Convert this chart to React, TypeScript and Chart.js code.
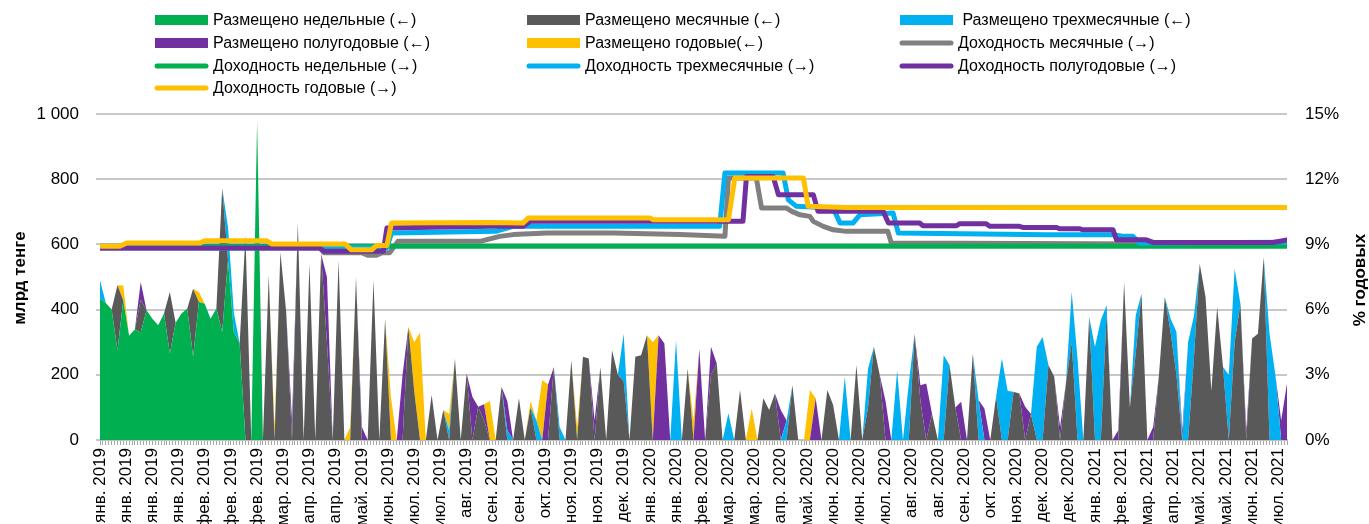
import { useEffect, useRef } from 'react';
import { Chart, registerables } from 'chart.js';

Chart.register(...registerables);

// ---------- axis / category data ----------
const TICK_LABELS = [
  'янв. 2019', 'янв. 2019', 'янв. 2019', 'янв. 2019', 'фев. 2019', 'фев. 2019', 'фев. 2019',
  'мар. 2019', 'апр. 2019', 'апр. 2019', 'май. 2019', 'июн. 2019', 'июл. 2019', 'июл. 2019',
  'авг. 2019', 'сен. 2019', 'сен. 2019', 'окт. 2019', 'ноя. 2019', 'ноя. 2019', 'дек. 2019',
  'янв. 2020', 'янв. 2020', 'фев. 2020', 'мар. 2020', 'мар. 2020', 'апр. 2020', 'май. 2020',
  'июн. 2020', 'июн. 2020', 'июл. 2020', 'авг. 2020', 'авг. 2020', 'сен. 2020', 'окт. 2020',
  'ноя. 2020', 'дек. 2020', 'дек. 2020', 'янв. 2021', 'фев. 2021', 'мар. 2021', 'апр. 2021',
  'май. 2021', 'май. 2021', 'июн. 2021', 'июл. 2021',
];
const CATEGORY_MAX = 408;   // auction dates 0..408
const LABEL_EVERY = 9;      // a date label on every 9th auction date
const SAMPLE_STEP = 2;      // placement samples on every 2nd date
const SAMPLE_COUNT = 205;

const LEFT_TITLE = 'млрд тенге';
const RIGHT_TITLE = '% годовых';
const LEFT_TICKS = { min: 0, max: 1000, step: 200 };
const RIGHT_TICKS = { min: 0, max: 15, step: 3 };

// ---------- placements, bn tenge: [sample, value] (others are 0) ----------
const PLACED_WEEKLY: [number, number][] = [
  [0, 434], [1, 420], [2, 400], [3, 275], [4, 428], [5, 320], [6, 340], [7, 330], [8, 398],
  [9, 372], [10, 352], [11, 388], [12, 265], [13, 360], [14, 388], [15, 403], [16, 255],
  [17, 423], [18, 418], [19, 372], [20, 403], [21, 331], [22, 551], [23, 331], [24, 296],
  [27, 980],
];
const PLACED_MONTHLY: [number, number][] = [
  [3, 200], [7, 100], [12, 189], [16, 209], [21, 442], [25, 627], [29, 505], [31, 576],
  [32, 393], [34, 668], [36, 541], [38, 571], [39, 300], [41, 551], [44, 500], [47, 490],
  [49, 372], [53, 347], [54, 150], [57, 138], [59, 92], [61, 250], [63, 204], [65, 102],
  [66, 60], [69, 163], [72, 128], [74, 100], [78, 224], [81, 245], [83, 255], [84, 250],
  [86, 224], [88, 275], [89, 200], [90, 180], [92, 255], [93, 260], [94, 321], [101, 219],
  [105, 200], [106, 235], [110, 153], [114, 128], [115, 92], [116, 143], [119, 168],
  [125, 153], [126, 107], [130, 230], [132, 100], [133, 286], [134, 200], [140, 326],
  [141, 120], [143, 80], [146, 230], [147, 100], [150, 265], [154, 133], [157, 148],
  [158, 143], [160, 80], [163, 230], [164, 194], [166, 173], [167, 300], [170, 377],
  [173, 388], [176, 485], [177, 100], [178, 265], [179, 449], [182, 200], [183, 439],
  [184, 330], [185, 200], [188, 250], [189, 541], [190, 439], [191, 150], [192, 408],
  [193, 224], [195, 300], [196, 418], [198, 311], [199, 326], [200, 561],
];
const PLACED_3M: [number, number][] = [
  [0, 56], [22, 102], [23, 60], [60, 30], [70, 30], [75, 60], [79, 40], [90, 146], [99, 306],
  [108, 82], [118, 60], [128, 194], [132, 119], [137, 214], [139, 173], [145, 260], [151, 122],
  [155, 250], [156, 150], [161, 286], [162, 316], [167, 154], [168, 250], [171, 286],
  [172, 367], [173, 25], [178, 118], [184, 42], [185, 132], [187, 300], [188, 130], [194, 200],
  [195, 225], [201, 326], [202, 200],
];
const PLACED_6M: [number, number][] = [
  [7, 55], [33, 60], [39, 200], [45, 40], [52, 200], [64, 133], [66, 50], [70, 90], [77, 170],
  [85, 60], [96, 321], [97, 296], [103, 280], [105, 86], [117, 92], [123, 128], [135, 120],
  [141, 48], [142, 173], [148, 117], [152, 97], [159, 102], [165, 40], [175, 30], [181, 40],
  [186, 30], [197, 30], [203, 60], [204, 173],
];
const PLACED_1Y: [number, number][] = [
  [4, 46], [17, 31], [30, 40], [43, 40], [50, 133], [54, 150], [55, 330], [60, 50], [67, 120],
  [74, 20], [76, 184], [82, 40], [95, 300], [102, 60], [112, 97], [122, 153],
];

// ---------- yields, % p.a.: [sample, value] vertices ----------
const YIELD_MONTHLY: [number, number][] = [
  [0, 8.83], [37.8, 8.83], [38.5, 8.62], [45, 8.62], [46, 8.5], [47.5, 8.5], [48.5, 8.62],
  [49.8, 8.62], [51.2, 9.14], [65.3, 9.14], [68.7, 9.37], [71, 9.45], [76.8, 9.52], [88.2, 9.52],
  [99.7, 9.45], [107.4, 9.37], [108, 12.05], [112.8, 12.05], [113.7, 10.67], [118, 10.67],
  [118.9, 10.52], [120.3, 10.36], [122, 10.29], [122.6, 10.06], [124.3, 9.83], [126, 9.67],
  [128.3, 9.6], [135.4, 9.6], [136, 9.06], [204, 9.0],
];
const YIELD_WEEKLY: [number, number][] = [[0, 8.92], [204, 8.92]];
const YIELD_3M: [number, number][] = [
  [0, 8.85], [49.3, 8.85], [50.1, 9.52], [68, 9.6], [71, 9.83], [106.5, 9.83], [107.4, 12.28],
  [117.4, 12.28], [118.3, 11.05], [119.7, 10.75], [126, 10.67], [127.2, 9.98], [129.4, 9.98],
  [130.6, 10.36], [136.3, 10.44], [137.2, 9.52], [162.6, 9.44], [174.1, 9.44], [176, 9.37],
  [177.5, 9.37], [178.7, 9.06], [204, 9.1],
];
const YIELD_6M: [number, number][] = [
  [0, 8.83], [37.8, 8.83], [38.5, 8.68], [48.7, 8.68], [49.3, 9.75], [67, 9.83], [72.7, 9.83],
  [73.9, 10.06], [110.5, 10.06], [111.1, 12.12], [115.7, 12.12], [116.6, 11.28], [122.6, 11.28],
  [123.4, 10.52], [134.6, 10.52], [135.5, 9.98], [140.9, 9.98], [141.4, 9.86], [147.2, 9.86],
  [147.7, 9.95], [152.3, 9.95], [152.9, 9.83], [158, 9.83], [158.6, 9.78], [164.4, 9.78],
  [164.9, 9.72], [168.4, 9.72], [168.9, 9.67], [174.1, 9.67], [174.7, 9.21], [179.8, 9.21],
  [181, 9.09], [201.6, 9.09], [204, 9.21],
];
const YIELD_1Y: [number, number][] = [
  [0, 8.91], [3.4, 8.91], [4.6, 9.06], [17.2, 9.06], [18, 9.17], [28.6, 9.17], [29.5, 9.02],
  [42.1, 9.02], [43.2, 8.75], [46.7, 8.75], [47.5, 8.95], [49.3, 8.95], [50.1, 9.98], [67, 10.01],
  [72.7, 9.98], [73.6, 10.21], [94.5, 10.21], [95.1, 10.13], [108, 10.13], [109.1, 12.05],
  [120.9, 12.05], [121.7, 10.75], [128.3, 10.7], [204, 10.7],
];

// ---------- series names & colours ----------
const AREA_NAMES = [
  'Размещено недельные (←)',
  'Размещено месячные (←)',
  ' Размещено трехмесячные (←)',
  'Размещено полугодовые (←)',
  'Размещено годовые(←)',
];
const AREA_DATA = [PLACED_WEEKLY, PLACED_MONTHLY, PLACED_3M, PLACED_6M, PLACED_1Y];
const AREA_COLORS = ['#00B050', '#595959', '#00B0F0', '#7030A0', '#FFC000'];

const LINE_NAMES = [
  'Доходность месячные (→)',
  'Доходность недельные (→)',
  'Доходность трехмесячные (→)',
  'Доходность полугодовые (→)',
  'Доходность годовые (→)',
];
const LINE_DATA = [YIELD_MONTHLY, YIELD_WEEKLY, YIELD_3M, YIELD_6M, YIELD_1Y];
const LINE_COLORS = ['#808080', '#00B050', '#00B0F0', '#7030A0', '#FFC000'];
const LINE_ORDER = [5, 4, 3, 2, 1];

const FONT = '"Liberation Sans", Arial, sans-serif';

function densePlacement(sparse: [number, number][]) {
  const values = new Array(SAMPLE_COUNT).fill(0);
  sparse.forEach(([s, v]) => { values[s] = v; });
  return values.map((v, s) => ({ x: s * SAMPLE_STEP, y: v }));
}
function yieldPoints(verts: [number, number][]) {
  return verts.map(([s, v]) => ({ x: s * SAMPLE_STEP, y: v }));
}

const decorPlugin = {
  id: 'decor',
  afterDraw(chart: any) {
    const ctx = chart.ctx as CanvasRenderingContext2D;
    const area = chart.chartArea;
    ctx.save();
    ctx.fillStyle = '#000';
    ctx.textAlign = 'center';
    ctx.textBaseline = 'middle';
    ctx.font = `bold 17px ${FONT}`;
    const midY = (area.top + area.bottom) / 2;
    ctx.save();
    ctx.translate(20, midY + 1);
    ctx.rotate(-Math.PI / 2);
    ctx.fillText(LEFT_TITLE, 0, 0);
    ctx.restore();
    ctx.save();
    ctx.translate(1360, midY + 3);
    ctx.rotate(-Math.PI / 2);
    ctx.fillText(RIGHT_TITLE, 0, 0);
    ctx.restore();

    // legend, 3 columns in dataset order
    const colX = [155, 527, 900];
    const rowY = [20, 43, 66, 88];
    const markerW = 53;
    ctx.font = `16px ${FONT}`;
    ctx.textAlign = 'left';
    chart.data.datasets.forEach((ds: any, i: number) => {
      const col = i % 3;
      const row = Math.floor(i / 3);
      const x = colX[col];
      const y = rowY[row];
      if (ds.isArea) {
        ctx.fillStyle = ds.backgroundColor;
        ctx.fillRect(x, y - 5, markerW, 10);
      } else {
        ctx.strokeStyle = ds.borderColor;
        ctx.lineWidth = 5;
        ctx.lineCap = 'round';
        ctx.beginPath();
        ctx.moveTo(x + 2, y);
        ctx.lineTo(x + markerW - 2, y);
        ctx.stroke();
      }
      ctx.fillStyle = '#000';
      ctx.fillText(ds.label, x + markerW + 5, y + 1);
    });
    ctx.restore();
  },
};

export default function App() {
  const canvasRef = useRef<HTMLCanvasElement | null>(null);

  useEffect(() => {
    if (!canvasRef.current) return;
    const areaSets = AREA_DATA.map((d, i) => ({
      type: 'line' as const,
      label: AREA_NAMES[i],
      isArea: true,
      data: densePlacement(d),
      yAxisID: 'y',
      backgroundColor: AREA_COLORS[i],
      borderColor: AREA_COLORS[i],
      borderWidth: 0,
      pointRadius: 0,
      fill: i === 0 ? 'origin' : '-1',
      tension: 0,
      order: 10,
    }));
    const lineSets = LINE_DATA.map((d, i) => ({
      type: 'line' as const,
      label: LINE_NAMES[i],
      isArea: false,
      data: yieldPoints(d),
      yAxisID: 'y1',
      borderColor: LINE_COLORS[i],
      backgroundColor: LINE_COLORS[i],
      borderWidth: 5,
      borderCapStyle: 'round',
      borderJoinStyle: 'round',
      pointRadius: 0,
      fill: false,
      tension: 0,
      order: LINE_ORDER[i],
    }));

    const chart = new Chart(canvasRef.current, {
      type: 'line',
      data: { datasets: [...areaSets, ...lineSets] as any },
      options: {
        animation: false,
        responsive: true,
        maintainAspectRatio: false,
        events: [],
        layout: { padding: { top: 114, left: 0, right: 0, bottom: 0 } },
        plugins: { legend: { display: false }, tooltip: { enabled: false } },
        scales: {
          x: {
            type: 'linear',
            min: 0,
            max: CATEGORY_MAX,
            afterFit: (s: any) => { s.height = 84; },
            ticks: {
              stepSize: 1,
              autoSkip: false,
              maxRotation: 90,
              minRotation: 90,
              padding: 3,
              color: '#000',
              font: { family: FONT, size: 17 },
              callback: (v: any) => (Number(v) % LABEL_EVERY === 0 ? TICK_LABELS[Number(v) / LABEL_EVERY] : ''),
            },
            grid: { drawOnChartArea: false, drawTicks: true, tickLength: 5, color: '#a6a6a6', lineWidth: 1 },
            border: { display: true, color: '#bfbfbf', width: 2 },
          },
          y: {
            position: 'left',
            stacked: true,
            min: LEFT_TICKS.min,
            max: LEFT_TICKS.max,
            afterFit: (s: any) => { s.width = 100; },
            ticks: {
              stepSize: LEFT_TICKS.step,
              padding: 17,
              color: '#000',
              font: { family: FONT, size: 17 },
              callback: (v: any) => String(v).replace(/\B(?=(\d{3})+(?!\d))/g, ' '),
            },
            grid: { color: '#c8c8c8', lineWidth: 2, tickLength: 4, drawTicks: true },
            border: { display: false },
          },
          y1: {
            position: 'right',
            min: RIGHT_TICKS.min,
            max: RIGHT_TICKS.max,
            afterFit: (s: any) => { s.width = 82; },
            ticks: {
              stepSize: RIGHT_TICKS.step,
              padding: 18,
              color: '#000',
              font: { family: FONT, size: 17 },
              callback: (v: any) => `${v}%`,
            },
            grid: { drawOnChartArea: false, drawTicks: false },
            border: { display: false },
          },
        },
      },
      plugins: [decorPlugin],
    });
    return () => chart.destroy();
  }, []);

  return (
    <div style={{ position: 'fixed', left: 0, top: 0, width: 1369, height: 524, background: '#fff' }}>
      <canvas ref={canvasRef} />
    </div>
  );
}
